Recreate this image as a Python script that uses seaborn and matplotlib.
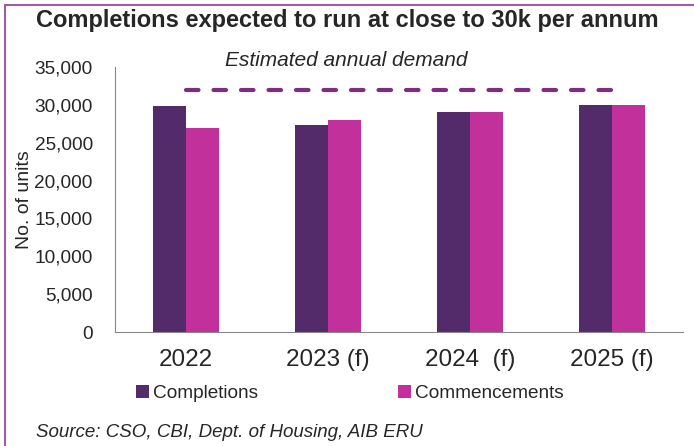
import matplotlib
matplotlib.use("Agg")
import matplotlib.pyplot as plt
import seaborn as sns
import pandas as pd
from matplotlib.lines import Line2D
from matplotlib.patches import Patch

years = ["2022", "2023 (f)", "2024  (f)", "2025 (f)"]
completions = [29850, 27400, 29000, 30000]
commencements = [27000, 28000, 29000, 30000]
demand = 32000
series_names = ["Completions", "Commencements"]
colors = ["#532B6B", "#C2309B"]

df = pd.DataFrame({
    "year": years * 2,
    "value": completions + commencements,
    "series": [series_names[0]] * 4 + [series_names[1]] * 4,
})

sns.set_style("white")
plt.rcParams['font.family'] = ['Liberation Sans', 'DejaVu Sans']

fig = plt.figure(figsize=(6.94, 4.46), dpi=100)
ax = fig.add_axes([0.1657, 0.2556, 0.8183, 0.5942])

sns.barplot(data=df, x="year", y="value", hue="series", palette=colors,
            width=0.47, ax=ax, legend=False, saturation=1, linewidth=0,
            edgecolor="none")

ax.plot([0, 3], [demand, demand], linestyle=(0, (3, 3.6)), color="#7E2D80",
        linewidth=3, dash_capstyle="round")

ax.set_xlim(-0.5, 3.5)
ax.set_ylim(0, 35000)
ax.set_yticks(range(0, 35001, 5000))
ax.set_yticklabels([f"{v:,}" for v in range(0, 35001, 5000)], fontsize=13.7)
ax.tick_params(axis="y", length=0, pad=16)
ax.tick_params(axis="x", length=0, pad=12, labelsize=17.5)
ax.set_xlabel("")
ax.set_ylabel("No. of units", fontsize=14)
ax.yaxis.set_label_coords(-0.144, 0.5)
for s in ["top", "right"]:
    ax.spines[s].set_visible(False)
ax.spines["left"].set_color("#888888")
ax.spines["bottom"].set_color("#888888")

fig.text(0.5, 0.955, "Completions expected to run at close to 30k per annum",
         ha="center", va="center", fontsize=17, fontweight="bold")
fig.text(0.4995, 0.865, "Estimated annual demand", ha="center", va="center",
         fontsize=15, style="italic")
fig.text(0.052, 0.03, "Source: CSO, CBI, Dept. of Housing, AIB ERU",
         ha="left", va="center", fontsize=13.5, style="italic")

handles = [Patch(facecolor=c, edgecolor="none") for c in colors]
fig.legend(handles, series_names, loc="center left", bbox_to_anchor=(0.185, 0.118),
           ncol=2, frameon=False, fontsize=13.7, handlelength=0.7, handleheight=0.7,
           handletextpad=0.2, columnspacing=7.35, borderaxespad=0)

fig.add_artist(Line2D([5 / 694, 1.0], [1 - 5 / 446, 1 - 5 / 446],
                      transform=fig.transFigure, color="#9B5FA0", linewidth=1.5))
fig.add_artist(Line2D([5 / 694, 5 / 694], [0.0, 1 - 5 / 446],
                      transform=fig.transFigure, color="#9B5FA0", linewidth=1.5))

fig.savefig("out.png", dpi=100)
